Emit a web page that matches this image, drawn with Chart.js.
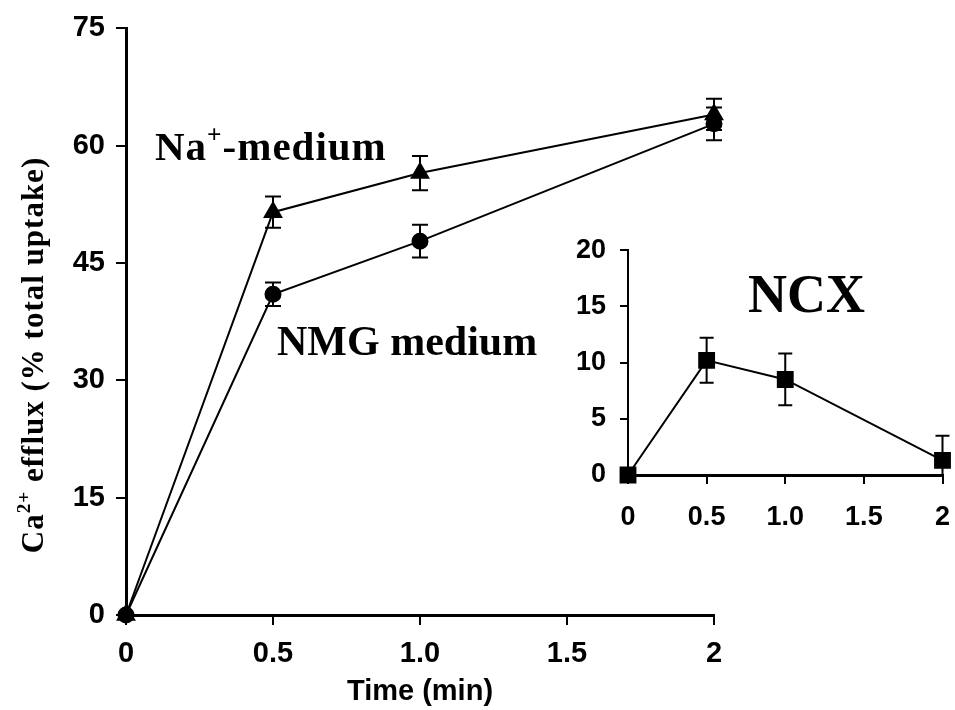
<!DOCTYPE html>
<html>
<head>
<meta charset="utf-8">
<script src="https://cdn.jsdelivr.net/npm/chart.js@4.4.1/dist/chart.umd.min.js"></script>
<style>
  html, body { margin: 0; padding: 0; background: #fff; }
  #wrap { position: relative; width: 955px; height: 710px; }
  #main { position: absolute; left: 0; top: 0; }
  #inset { position: absolute; left: 540px; top: 220px; }
</style>
</head>
<body>
<div id="wrap">
  <canvas id="main" width="955" height="710"></canvas>
  <canvas id="inset" width="415" height="320"></canvas>
</div>
<script>
// ---- data ----
const times = [0, 0.5, 1.0, 2];
const naValues = [0, 51.5, 56.5, 64.0];
const naErr = [0, 2.0, 2.2, 2.0];
const nmgValues = [0, 41.0, 47.8, 62.8];
const nmgErr = [0, 1.5, 2.1, 2.1];
const ncxValues = [0, 10.2, 8.5, 1.3];
const ncxErr = [0, 2.0, 2.3, 2.2];
const mainYTicks = [0, 15, 30, 45, 60, 75];
const insetYTicks = [0, 5, 10, 15, 20];
const xTicks = [0, 0.5, 1.0, 1.5, 2];

const SANS = '"Liberation Sans", Arial, sans-serif';
const SERIF = '"Liberation Serif", "Times New Roman", serif';

function xLabel(v) { return (v === 0 || v === 2) ? String(v) : v.toFixed(1); }
function pts(xs, ys) { return xs.map((x, i) => ({ x: x, y: ys[i] })); }

const errorBars = {
  id: 'errorBars',
  afterDatasetsDraw(chart, args, opts) {
    const ctx = chart.ctx;
    const xs = chart.scales.x, ys = chart.scales.y;
    ctx.save();
    ctx.strokeStyle = '#000';
    ctx.lineWidth = opts.lineWidth || 2;
    const cap = opts.cap || 8;
    chart.data.datasets.forEach((ds) => {
      const errs = ds.errors;
      if (!errs) return;
      ds.data.forEach((p, i) => {
        const e = errs[i];
        if (!e) return;
        const px = xs.getPixelForValue(p.x);
        const top = ys.getPixelForValue(p.y + e);
        const lowVal = p.y - e;
        const clipped = lowVal < ys.min;
        const bot = ys.getPixelForValue(Math.max(lowVal, ys.min));
        ctx.beginPath();
        ctx.moveTo(px, top); ctx.lineTo(px, bot);
        ctx.moveTo(px - cap, top); ctx.lineTo(px + cap, top);
        if (!clipped) { ctx.moveTo(px - cap, bot); ctx.lineTo(px + cap, bot); }
        ctx.stroke();
      });
    });
    ctx.restore();
  }
};

const textLabels = {
  id: 'textLabels',
  afterDraw(chart, args, opts) {
    const ctx = chart.ctx;
    ctx.save();
    ctx.fillStyle = '#000';
    (opts.items || []).forEach((it) => {
      ctx.save();
      ctx.translate(it.x, it.y);
      if (it.rotate) ctx.rotate(it.rotate);
      ctx.textBaseline = 'alphabetic';
      ctx.textAlign = 'left';
      if ('letterSpacing' in ctx) ctx.letterSpacing = (it.spacing || 0) + 'px';
      let total = 0;
      it.parts.forEach((pt) => {
        ctx.font = 'bold ' + (pt.sup ? it.size * 0.62 : it.size) + 'px ' + SERIF;
        total += ctx.measureText(pt.t).width;
      });
      let cx = it.center ? -total / 2 : 0;
      it.parts.forEach((pt) => {
        ctx.font = 'bold ' + (pt.sup ? it.size * 0.62 : it.size) + 'px ' + SERIF;
        ctx.fillText(pt.t, cx, pt.sup ? -it.size * 0.42 : 0);
        cx += ctx.measureText(pt.t).width;
      });
      ctx.restore();
    });
    ctx.restore();
  }
};

new Chart(document.getElementById('main'), {
  type: 'line',
  data: {
    datasets: [
      {
        label: 'Na+-medium',
        data: pts(times, naValues),
        errors: naErr,
        borderColor: '#000', borderWidth: 2,
        pointStyle: 'triangle', pointRadius: 9.5,
        pointBackgroundColor: '#000', pointBorderColor: '#000',
        tension: 0, clip: false
      },
      {
        label: 'NMG medium',
        data: pts(times, nmgValues),
        errors: nmgErr,
        borderColor: '#000', borderWidth: 2,
        pointStyle: 'circle', pointRadius: 7.5,
        pointBackgroundColor: '#000', pointBorderColor: '#000',
        tension: 0, clip: false
      }
    ]
  },
  options: {
    responsive: false, animation: false, devicePixelRatio: 1,
    layout: { padding: { left: 0, right: 241, top: 25, bottom: 0 } },
    plugins: {
      legend: { display: false }, tooltip: { enabled: false },
      errorBars: { lineWidth: 2, cap: 8 },
      textLabels: {
        items: [
          { x: 155, y: 160, size: 41, spacing: 1, parts: [{ t: 'Na' }, { t: '+', sup: true }, { t: '-medium' }] },
          { x: 277, y: 355, size: 42, parts: [{ t: 'NMG medium' }] },
          { x: 43, y: 355, size: 31, spacing: 1, rotate: -Math.PI / 2, center: true,
            parts: [{ t: 'Ca' }, { t: '2+', sup: true }, { t: ' efflux (% total uptake)' }] }
        ]
      }
    },
    scales: {
      x: {
        type: 'linear', min: 0, max: 2,
        afterBuildTicks: (s) => { s.ticks = xTicks.map(v => ({ value: v })); },
        afterFit: (s) => { s.height = 95; },
        border: { display: true, color: '#000', width: 3 },
        grid: { drawOnChartArea: false, drawTicks: true, tickLength: 10, color: '#000', lineWidth: 2 },
        ticks: { color: '#000', font: { family: SANS, size: 29, weight: 'bold' }, padding: 12, maxRotation: 0,
                 callback: (v) => xLabel(v) },
        title: { display: true, text: 'Time (min)', color: '#000', font: { family: SANS, size: 29, weight: 'bold' },
                 padding: { top: 0, bottom: 1 } }
      },
      y: {
        type: 'linear', min: 0, max: 75,
        afterBuildTicks: (s) => { s.ticks = mainYTicks.map(v => ({ value: v })); },
        afterFit: (s) => { s.width = 126; },
        border: { display: true, color: '#000', width: 3 },
        grid: { drawOnChartArea: false, drawTicks: true, tickLength: 10, color: '#000', lineWidth: 2 },
        ticks: { color: '#000', font: { family: SANS, size: 29, weight: 'bold' }, padding: 11 }
      }
    }
  },
  plugins: [errorBars, textLabels]
});

new Chart(document.getElementById('inset'), {
  type: 'line',
  data: {
    datasets: [
      {
        label: 'NCX',
        data: pts(times, ncxValues),
        errors: ncxErr,
        borderColor: '#000', borderWidth: 2,
        pointStyle: 'rect', pointRadius: 10.5,
        pointBackgroundColor: '#000', pointBorderColor: '#000',
        tension: 0, clip: false
      }
    ]
  },
  options: {
    responsive: false, animation: false, devicePixelRatio: 1,
    layout: { padding: { left: 0, right: 6, top: 23, bottom: 0 } },
    plugins: {
      legend: { display: false }, tooltip: { enabled: false },
      errorBars: { lineWidth: 2, cap: 7 },
      textLabels: {
        items: [
          { x: 208, y: 92, size: 54, parts: [{ t: 'NCX' }] }
        ]
      }
    },
    scales: {
      x: {
        type: 'linear', min: 0, max: 2,
        afterBuildTicks: (s) => { s.ticks = xTicks.map(v => ({ value: v })); },
        afterFit: (s) => { s.height = 65; s.paddingLeft = 0; s.paddingRight = 0; },
        border: { display: true, color: '#000', width: 3 },
        grid: { drawOnChartArea: false, drawTicks: true, tickLength: 9, color: '#000', lineWidth: 2 },
        ticks: { color: '#000', font: { family: SANS, size: 27, weight: 'bold' }, padding: 17, maxRotation: 0,
                 callback: (v) => xLabel(v) }
      },
      y: {
        type: 'linear', min: 0, max: 20,
        afterBuildTicks: (s) => { s.ticks = insetYTicks.map(v => ({ value: v })); },
        afterFit: (s) => { s.width = 88; },
        border: { display: true, color: '#000', width: 2 },
        grid: { drawOnChartArea: false, drawTicks: true, tickLength: 8, color: '#000', lineWidth: 2 },
        ticks: { color: '#000', font: { family: SANS, size: 27, weight: 'bold' }, padding: 14 }
      }
    }
  },
  plugins: [errorBars, textLabels]
});
</script>
</body>
</html>
